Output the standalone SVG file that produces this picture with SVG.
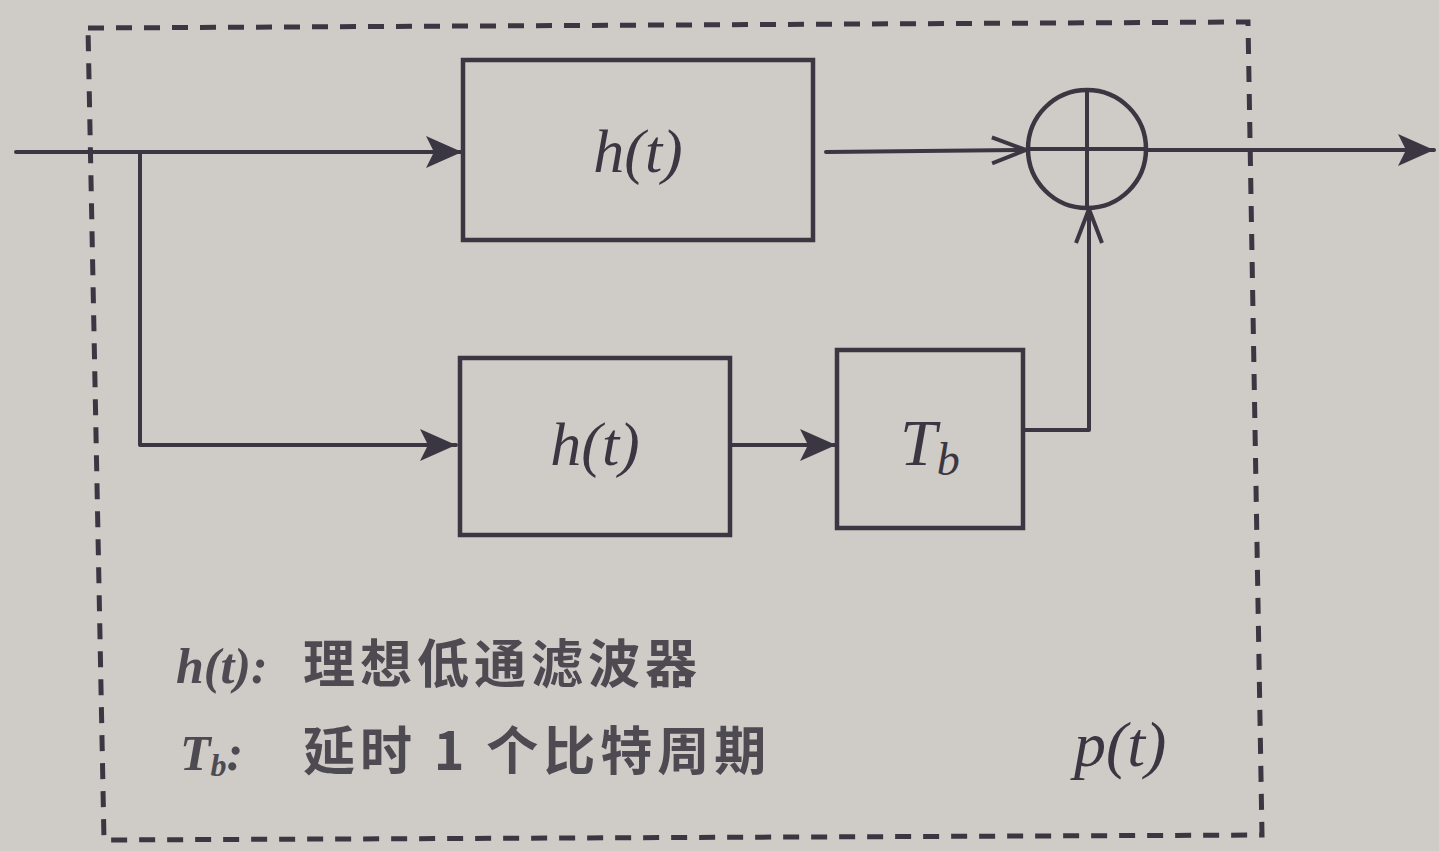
<svg xmlns="http://www.w3.org/2000/svg" width="1439" height="851" viewBox="0 0 1439 851">
<style>
.ln{fill:none;stroke:#3b3742;stroke-width:4;stroke-linecap:round;stroke-linejoin:round}
.box{fill:none;stroke:#3b3742;stroke-width:4.5}
.dash{fill:none;stroke:#3b3742;stroke-width:5;stroke-dasharray:16 12}
.m{font-family:"Liberation Serif","DejaVu Serif",serif;font-style:italic;fill:#3b3742}
.cn{font-family:"Noto Sans CJK SC","Noto Sans",sans-serif;font-weight:700;fill:#4e4a52}
.lg{font-family:"Liberation Serif",serif;font-style:italic;font-weight:700;fill:#4e4a52}
</style>
<defs>
<marker id="af" viewBox="0 0 20 20" refX="19" refY="10" markerWidth="20" markerHeight="20" markerUnits="userSpaceOnUse" orient="auto">
<path d="M0,2 L20,10 L0,18 L5,10 Z" fill="#3b3742"/>
</marker>
<marker id="ao" viewBox="0 0 40 30" refX="38" refY="15" markerWidth="40" markerHeight="30" markerUnits="userSpaceOnUse" orient="auto">
<path d="M4,2 L38,15 L4,28" fill="none" stroke="#3b3742" stroke-width="4"/>
</marker>
<marker id="a2" viewBox="0 0 40 40" refX="38" refY="20" markerWidth="40" markerHeight="40" markerUnits="userSpaceOnUse" orient="auto">
<path d="M2,4 L38,20 L2,36 L10,20 Z" fill="#3b3742"/>
</marker>
</defs>
<rect width="1439" height="851" fill="#cfcbc7"/>
<g id="frame">
<path class="dash" d="M88,28 L1248,22 L1262,835 L104,840 Z"/>
</g>
<g id="connectors">
<path class="ln" d="M16,152 L462,152" marker-end="url(#a2)"/>
<path class="ln" d="M140,152 L140,445 L456,445" marker-end="url(#a2)"/>
<path class="ln" d="M826,152 L1026,150" marker-end="url(#ao)"/>
<path class="ln" d="M731,445 L836,445" marker-end="url(#a2)"/>
<path class="ln" d="M1024,430 L1089,430 L1089,209" marker-end="url(#ao)"/>
<path class="ln" d="M1146,150 L1434,150" marker-end="url(#a2)"/>
</g>
<g id="h1">
<rect class="box" x="463" y="60" width="350" height="180"/>
<text class="m" x="638" y="172" font-size="62" text-anchor="middle">h(t)</text>
</g>
<g id="h2">
<rect class="box" x="460" y="358" width="270" height="177"/>
<text class="m" x="595" y="465" font-size="62" text-anchor="middle">h(t)</text>
</g>
<g id="tb">
<rect class="box" x="837" y="350" width="186" height="178"/>
<text class="m" x="900" y="465" font-size="66">T<tspan font-size="46" dy="10">b</tspan></text>
</g>
<g id="sum">
<circle cx="1087" cy="149" r="59" fill="none" stroke="#3b3742" stroke-width="4.5"/>
<path class="ln" d="M1028,149 L1146,149 M1087,90 L1087,208"/>
</g>
<g id="legend">
<text class="lg" x="176" y="683" font-size="50">h(t):</text>
<text class="cn" x="303" y="683" font-size="52" letter-spacing="5">理想低通滤波器</text>
<text class="lg" x="180" y="770" font-size="50">T<tspan font-size="32" dy="6">b</tspan><tspan dy="-6">:</tspan></text>
<text class="cn" x="303" y="770" font-size="52" letter-spacing="5">延时 1 个比特周期</text>
</g>
<g id="pt">
<text class="m" x="1074" y="766" font-size="64">p(t)</text>
</g>
</svg>
